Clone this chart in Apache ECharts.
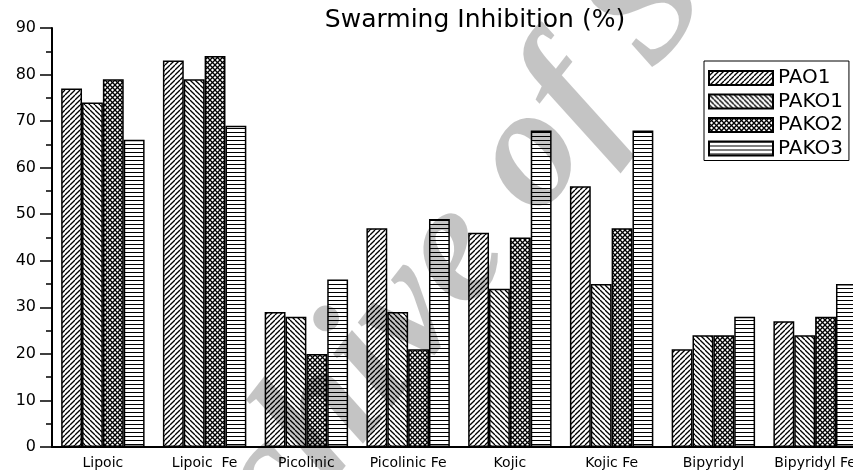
<!DOCTYPE html>
<html>
<head>
<meta charset="utf-8">
<script src="https://cdn.jsdelivr.net/npm/echarts@6/dist/echarts.min.js"></script>
<style>
html,body{margin:0;padding:0;background:#fff;overflow:hidden;}
#chart{width:866px;height:470px;}
</style>
</head>
<body>
<div id="chart"></div>
<script>
// ---- data ----
var categories = ['Lipoic', 'Lipoic  Fe', 'Picolinic', 'Picolinic Fe', 'Kojic', 'Kojic Fe', 'Bipyridyl', 'Bipyridyl Fe'];
var seriesNames = ['PAO1', 'PAKO1', 'PAKO2', 'PAKO3'];
var PAO1  = [77, 83, 29, 47, 46, 56, 21, 27];
var PAKO1 = [74, 79, 28, 29, 34, 35, 24, 24];
var PAKO2 = [79, 84, 20, 21, 45, 47, 24, 28];
var PAKO3 = [66, 69, 36, 49, 68, 68, 28, 35];
var yTicks = [0, 10, 20, 30, 40, 50, 60, 70, 80, 90];

// ---- hatch patterns ----
function makePattern(size, kinds, lw) {
  var c = document.createElement('canvas');
  c.width = size; c.height = size;
  var ctx = c.getContext('2d');
  ctx.fillStyle = '#fff';
  ctx.fillRect(0, 0, size, size);
  ctx.strokeStyle = '#000';
  ctx.lineWidth = lw;
  kinds.forEach(function (k) {
    for (var o = -1; o <= 1; o++) {
      ctx.beginPath();
      if (k === '/') { ctx.moveTo(o * size, size); ctx.lineTo(o * size + size, 0); }
      else if (k === '\\') { ctx.moveTo(o * size, 0); ctx.lineTo(o * size + size, size); }
      ctx.stroke();
    }
    if (k === '-') { ctx.fillStyle = '#000'; ctx.fillRect(0, 0, size, 1); }
  });
  return { image: c, repeat: 'repeat' };
}
var patterns = [
  makePattern(5, ['/'], 1.3),
  makePattern(5, ['\\'], 1.3),
  makePattern(5, ['/', '\\'], 1.25),
  makePattern(4, ['-'], 1)
];
var dataArr = [PAO1, PAKO1, PAKO2, PAKO3];

var font = 'DejaVu Sans';
var chart = echarts.init(document.getElementById('chart'));
var series = seriesNames.map(function (name, i) {
  return {
    name: name,
    type: 'bar',
    data: dataArr[i],
    barGap: '0%',
    barCategoryGap: '18%',
    itemStyle: { color: patterns[i], borderColor: '#000', borderWidth: 1.5 },
    emphasis: { disabled: true }
  };
});

chart.setOption({
  animation: false,
  backgroundColor: '#fff',
  title: {
    text: 'Swarming Inhibition (%)',
    left: 475, top: 8, textAlign: 'center', padding: 0,
    textStyle: { fontFamily: font, fontSize: 25, fontWeight: 'normal', color: '#000' }
  },
  legend: {
    orient: 'vertical',
    left: 704, top: 61,
    padding: [7, 6, 2, 4],
    borderColor: '#000', borderWidth: 1,
    icon: 'rect',
    itemWidth: 64, itemHeight: 14, itemGap: 3.5,
    textStyle: { fontFamily: font, fontSize: 20, color: '#000' },
    data: seriesNames
  },
  grid: { left: 52, right: 0, top: 28, bottom: 21, containLabel: false },
  xAxis: [{
    type: 'category',
    data: categories,
    axisLine: { lineStyle: { color: '#000', width: 2 } },
    axisTick: { alignWithLabel: true, length: 8, lineStyle: { color: '#000', width: 2 } },
    axisLabel: { interval: 0, margin: 9, fontFamily: font, fontSize: 14, color: '#000' }
  }, {
    type: 'category',
    data: categories,
    position: 'bottom',
    axisLine: { show: false },
    axisTick: { length: 5, lineStyle: { color: '#000', width: 2 } },
    axisLabel: { show: false }
  }],
  yAxis: {
    type: 'value',
    min: yTicks[0], max: yTicks[yTicks.length - 1], interval: 10,
    axisLine: { show: true, lineStyle: { color: '#000', width: 2 } },
    axisTick: { show: true, length: 12, lineStyle: { color: '#000', width: 1.5 } },
    minorTick: { show: true, splitNumber: 2, length: 6, lineStyle: { color: '#000', width: 1.5 } },
    splitLine: { show: false },
    axisLabel: { margin: 16, fontFamily: font, fontSize: 16, color: '#000' }
  },
  series: series,
  graphic: [{
    type: 'text',
    x: 204, y: 715,
    rotation: 52 * Math.PI / 180,
    z: 100,
    silent: true,
    style: {
      text: 'Archive of SID',
      font: 'italic bold 172px "Liberation Serif"',
      fill: 'rgba(0,0,0,0.23)',
      textAlign: 'left',
      textVerticalAlign: 'bottom'
    }
  }]
});
</script>
</body>
</html>
